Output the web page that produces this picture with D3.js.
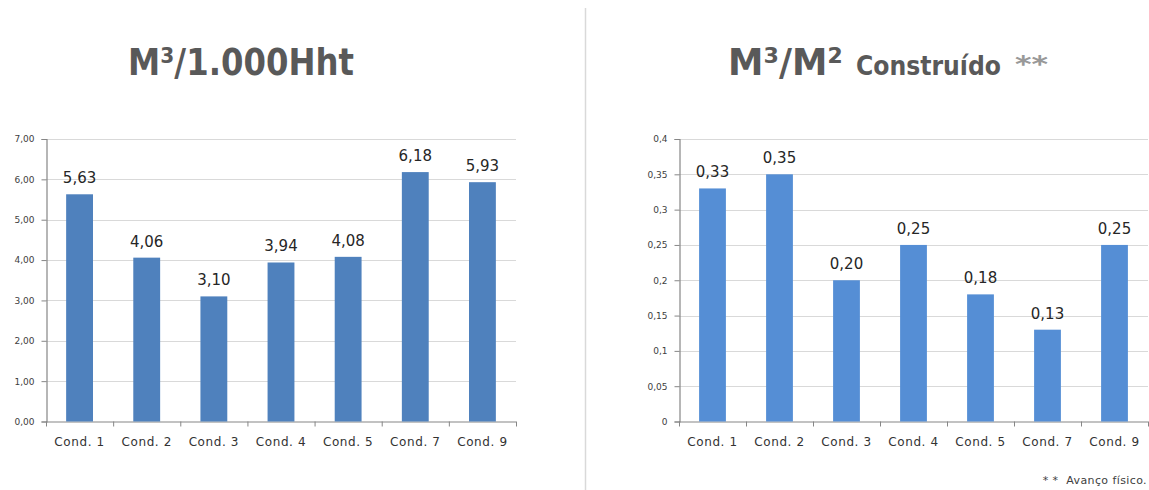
<!DOCTYPE html>
<html>
<head>
<meta charset="utf-8">
<script src="https://cdn.jsdelivr.net/npm/d3@7"></script>
<style>
  html, body { margin: 0; padding: 0; background: #fff; }
  svg { display: block; font-family: "DejaVu Sans", Verdana, sans-serif; }
</style>
</head>
<body>
<div id="chart"></div>
<script>
// dados
const categories = ["Cond. 1", "Cond. 2", "Cond. 3", "Cond. 4", "Cond. 5", "Cond. 7", "Cond. 9"];
const m3PorHht = [5.63, 4.06, 3.10, 3.94, 4.08, 6.18, 5.93];
const m3PorM2 = [0.33, 0.35, 0.20, 0.25, 0.18, 0.13, 0.25];
const ticksHht = [0, 1, 2, 3, 4, 5, 6, 7];
const ticksM2 = [0, 0.05, 0.1, 0.15, 0.2, 0.25, 0.3, 0.35, 0.4];

const W = 1149, H = 490;
const svg = d3.select("#chart").append("svg").attr("width", W).attr("height", H);

const comma = s => s.replace(".", ",");

function drawChart(cfg) {
  const { x0, x1, yTop, yBottom, values, ticks, tickFmt, labelFmt, color } = cfg;
  const g = svg.append("g");

  const x = d3.scaleBand().domain(categories).range([x0, x1])
    .paddingInner(0.6).paddingOuter(0.3);
  const y = d3.scaleLinear().domain([0, d3.max(ticks)]).range([yBottom, yTop]);

  // grade
  g.append("g").selectAll("line").data(ticks.slice(1)).join("line")
    .attr("x1", x0).attr("x2", x1)
    .attr("y1", d => Math.round(y(d)) + 0.5).attr("y2", d => Math.round(y(d)) + 0.5)
    .attr("stroke", "#d9d9d9").attr("stroke-width", 1.2);

  // eixo y
  const ay = g.append("g").attr("transform", `translate(${x0 + 0.5},0)`)
    .call(d3.axisLeft(y).tickValues(ticks).tickSize(5).tickPadding(7).tickFormat(tickFmt));
  ay.select(".domain").attr("stroke", "#868686").attr("stroke-width", 1.2);
  ay.selectAll(".tick line").attr("stroke", "#868686");
  ay.selectAll("text").attr("fill", "#404040").style("font-size", "9px")
    .style("font-family", "'DejaVu Sans', sans-serif");

  // eixo x: linha base + marcas entre categorias
  const step = x.step();
  g.append("line").attr("x1", x0).attr("x2", x1)
    .attr("y1", yBottom + 0.5).attr("y2", yBottom + 0.5)
    .attr("stroke", "#868686").attr("stroke-width", 1.2);
  g.append("g").selectAll("line").data(d3.range(categories.length + 1)).join("line")
    .attr("x1", i => x0 + i * step + 0.5).attr("x2", i => x0 + i * step + 0.5)
    .attr("y1", yBottom).attr("y2", yBottom + 5)
    .attr("stroke", "#868686");
  g.append("g").selectAll("text").data(categories).join("text")
    .attr("x", d => x(d) + x.bandwidth() / 2).attr("y", yBottom + 24)
    .attr("text-anchor", "middle").attr("fill", "#333")
    .style("font-size", "12px").style("letter-spacing", "0.6px")
    .text(d => d);

  // barras
  g.append("g").selectAll("rect").data(values).join("rect")
    .attr("x", (d, i) => x(categories[i])).attr("width", x.bandwidth())
    .attr("y", d => y(d)).attr("height", d => yBottom - y(d))
    .attr("fill", color);

  // rótulos
  g.append("g").selectAll("text").data(values).join("text")
    .attr("x", (d, i) => x(categories[i]) + x.bandwidth() / 2)
    .attr("y", d => y(d) - 11)
    .attr("text-anchor", "middle").attr("fill", "#262626")
    .style("font-size", "15px")
    .text(labelFmt);
}

drawChart({
  x0: 46, x1: 516, yTop: 139, yBottom: 421.5,
  values: m3PorHht, ticks: ticksHht,
  tickFmt: d => comma(d3.format(".2f")(d)),
  labelFmt: d => comma(d3.format(".2f")(d)),
  color: "#4f81bd"
});

drawChart({
  x0: 679, x1: 1148, yTop: 139, yBottom: 421.5,
  values: m3PorM2, ticks: ticksM2,
  tickFmt: d => comma(String(+d.toFixed(2))),
  labelFmt: d => comma(d3.format(".2f")(d)),
  color: "#558ed5"
});

// divisória
svg.append("line").attr("x1", 585.5).attr("x2", 585.5).attr("y1", 8).attr("y2", H)
  .attr("stroke", "#d9d9d9").attr("stroke-width", 1.5);

// títulos: fonte mais estreita simulada com scaleX
const title = svg.append("g").attr("fill", "#595959").style("font-weight", "bold");
function titlePart(txt, x, y, size, width, fill) {
  const t = title.append("text").attr("x", 0).attr("y", 0)
    .style("font-size", size + "px").text(txt);
  if (fill) t.attr("fill", fill);
  const w = t.node().getComputedTextLength();
  t.attr("transform", `translate(${x},${y}) scale(${width / w},1)`);
}
titlePart("M³/1.000Hht", 128, 75, 37, 226);
titlePart("M³/M²", 728, 75, 37, 115);
titlePart("Construído", 856, 75, 27, 145);
titlePart("**", 1015, 72, 23, 33, "#999");

// nota
svg.append("text").attr("x", 1147).attr("y", 484).attr("text-anchor", "end")
  .attr("fill", "#404040").style("font-size", "11px").style("letter-spacing", "0.4px")
  .style("white-space", "pre")
  .text("* *  Avanço físico.");
</script>
</body>
</html>
